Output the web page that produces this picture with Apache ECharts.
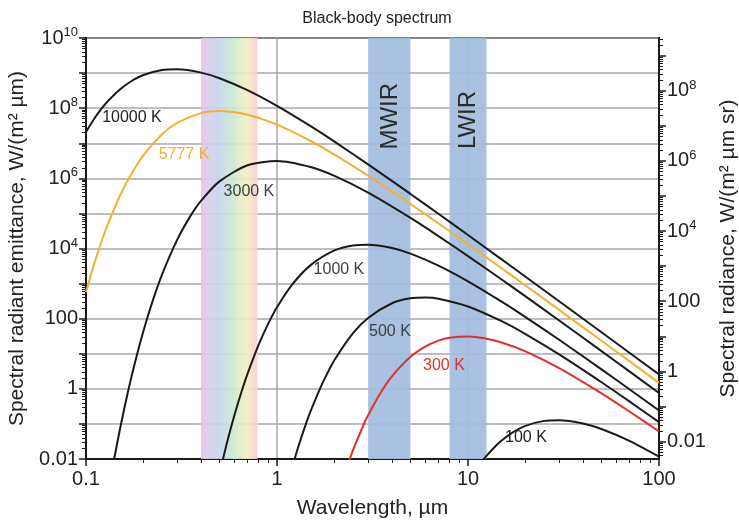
<!DOCTYPE html>
<html>
<head>
<meta charset="utf-8">
<script src="https://cdn.jsdelivr.net/npm/echarts@6/dist/echarts.min.js"></script>
<style>
html, body { margin: 0; padding: 0; background: #fff; }
#chart { width: 739px; height: 529px; }
</style>
</head>
<body>
<div id="chart"></div>
<script>
// wavelength (µm) and spectral emittance W/(m² µm)
const lambda10000 = [0.1, 0.11, 0.12, 0.13, 0.15, 0.17, 0.2, 0.25, 0.3, 0.4, 0.5, 0.7, 1, 1.5, 2, 3, 5, 7, 10, 15, 20, 30, 50, 70, 100];
const emit10000 = [2.11e7, 4.85e7, 9.33e7, 1.57e8, 3.36e8, 5.57e8, 8.79e8, 1.22e9, 1.28e9, 1.03e9, 7.14e8, 3.27e8, 1.16e8, 3.06e7, 1.11e7, 2.50e6, 3.59e5, 9.76e4, 2.42e4, 4895, 1568, 314, 41.0, 10.7, 2.58];

const lambda5777 = [0.1, 0.11, 0.12, 0.13, 0.15, 0.17, 0.2, 0.25, 0.3, 0.4, 0.5, 0.7, 1, 1.5, 2, 3, 5, 7, 10, 15, 20, 30, 50, 70, 100];
const emit5777 = [571, 3410, 1.46e4, 4.82e4, 3.03e5, 1.14e6, 4.57e6, 1.81e7, 3.82e7, 7.23e7, 8.27e7, 6.53e7, 3.38e7, 1.16e7, 4.73e6, 1.19e6, 1.85e5, 5.21e4, 1.32e4, 2728, 882, 178, 23.4, 6.15, 1.48];

const lambda3000 = [0.14, 0.15, 0.16, 0.17, 0.18, 0.2, 0.22, 0.25, 0.3, 0.35, 0.4, 0.5, 0.7, 1, 1.5, 2, 3, 5, 7, 10, 15, 20, 30, 50, 70, 100];
const emit3000 = [0.0092, 0.0641, 0.342, 1.48, 5.31, 45.0, 248, 1787, 1.76e4, 7.97e4, 2.27e5, 8.17e5, 2.36e6, 3.12e6, 2.10e6, 1.17e6, 3.90e5, 7.43e4, 2.26e4, 6079, 1308, 432, 88.8, 11.9, 3.14, 0.762];

const lambda1000 = [0.5, 0.55, 0.6, 0.65, 0.7, 0.8, 0.9, 1, 1.2, 1.5, 2, 2.5, 3, 4, 5, 7, 10, 15, 20, 30, 50, 70, 100];
const emit1000 = [0.0038, 0.0324, 0.185, 0.786, 2.64, 17.7, 72.3, 211, 933, 3364, 8794, 1.22e4, 1.28e4, 1.03e4, 7138, 3269, 1164, 306, 111, 25.0, 3.59, 0.976, 0.242];

const lambda500 = [1.2, 1.3, 1.4, 1.5, 1.7, 1.8, 2, 2.5, 3, 4, 5, 6, 7, 10, 15, 20, 30, 50, 70, 100];
const emit500 = [0.0058, 0.0246, 0.0824, 0.230, 1.17, 2.26, 6.60, 38.5, 105, 275, 380, 401, 371, 223, 84.8, 36.4, 9.57, 1.54, 0.438, 0.112];

const lambda300 = [2.3, 2.5, 2.8, 3, 3.5, 4, 5, 6, 7, 8, 10, 12, 15, 20, 30, 50, 70, 100];
const emit300 = [0.0051, 0.0179, 0.0791, 0.176, 0.797, 2.27, 8.17, 16.2, 23.6, 28.5, 31.2, 28.2, 21.0, 11.7, 3.90, 0.743, 0.226, 0.0608];

const lambda100 = [12, 12.5, 14, 15, 17, 20, 25, 30, 40, 50, 70, 100];
const emit100 = [0.0093, 0.0123, 0.0239, 0.0336, 0.0557, 0.0879, 0.122, 0.128, 0.103, 0.0714, 0.0327, 0.0116];

const xTicks = [0.1, 1, 10, 100];
const radianceLabels = [0.01, 1, 100, 1e4, 1e6, 1e8];
const radianceTicks = [0.01, 0.1, 1, 10, 100, 1e3, 1e4, 1e5, 1e6, 1e7, 1e8, 1e9];
const bandVisible = [0.4, 0.79];
const bandMWIR = [3, 5];
const bandLWIR = [8, 12.5];

function pairs(xs, ys) {
  return xs.map(function (x, i) { return [x, ys[i]]; });
}

// 2..9 x 10^k positions for the small log ticks
function minorTicks(lo, hi) {
  const out = [];
  for (let k = -4; k <= 10; k++) {
    for (let m = 2; m <= 9; m++) {
      const v = +(m * Math.pow(10, k)).toPrecision(6);
      if (v > lo && v < hi) out.push(v);
    }
  }
  return out;
}

function powLabel(v) {
  const lg = Math.log10(v);
  const e = Math.round(lg);
  if (Math.abs(lg - e) > 1e-6 || e % 2 !== 0) return '';
  if (e === -2) return '0.01';
  if (e === 0) return '1';
  if (e === 2) return '100';
  return '{b|10}{s|' + e + '}';
}

const font = 'Liberation Sans, Arial, sans-serif';
const labelRich = {
  b: { fontSize: 20, fontFamily: font, color: '#222' },
  s: { fontSize: 13, fontFamily: font, color: '#222', padding: [0, 0, 11, 0] }
};

function curve(name, xs, ys, color, tag, tagPos, tagColor) {
  return {
    name: name,
    type: 'line',
    data: pairs(xs, ys),
    showSymbol: false,
    smooth: 0.25,
    lineStyle: { color: color, width: 2 },
    z: 5,
    markPoint: {
      symbol: 'circle',
      symbolSize: 0,
      silent: true,
      label: {
        show: true,
        position: 'inside',
        formatter: tag,
        color: tagColor,
        fontSize: 16,
        fontFamily: font
      },
      data: [{ coord: tagPos }]
    }
  };
}

function minorAxis(pos, min, max, ticks) {
  return {
    type: 'log',
    logBase: 10,
    min: min,
    max: max,
    position: pos,
    axisLine: { show: false },
    axisLabel: { show: false },
    splitLine: { show: false },
    axisTick: { show: true, customValues: ticks, length: 4, lineStyle: { color: '#1a1a1a', width: 1 } }
  };
}

const chart = echarts.init(document.getElementById('chart'));

const bandSeries = {
  type: 'line',
  data: [],
  silent: true,
  markArea: {
    silent: true,
    data: [
      [{
        xAxis: bandVisible[0],
        itemStyle: {
          opacity: 0.9,
          color: {
            type: 'linear', x: 0, y: 0, x2: 1, y2: 0,
            colorStops: [
              { offset: 0, color: '#e6c6e4' },
              { offset: 0.3, color: '#c8d3f0' },
              { offset: 0.55, color: '#c9e7d4' },
              { offset: 0.8, color: '#f2efbf' },
              { offset: 1, color: '#f6cfcf' }
            ]
          }
        }
      }, { xAxis: bandVisible[1] }],
      [{ xAxis: bandMWIR[0], itemStyle: { color: '#a3bde0', opacity: 0.92 } }, { xAxis: bandMWIR[1] }],
      [{ xAxis: bandLWIR[0], itemStyle: { color: '#a3bde0', opacity: 0.92 } }, { xAxis: bandLWIR[1] }]
    ]
  },
  markPoint: {
    symbol: 'circle',
    symbolSize: 0,
    silent: true,
    label: {
      show: true,
      position: 'inside',
      rotate: 90,
      color: '#2a2a2a',
      fontSize: 24,
      fontFamily: font
    },
    data: [
      { coord: [3.9, 5.9e7], label: { formatter: 'MWIR' } },
      { coord: [10, 4.6e7], label: { formatter: 'LWIR' } }
    ]
  }
};

chart.setOption({
  animation: false,
  backgroundColor: '#fff',
  title: {
    text: 'Black-body spectrum',
    left: 372,
    textAlign: 'center',
    top: 6,
    textStyle: { fontSize: 16, fontWeight: 'normal', color: '#222', fontFamily: font }
  },
  grid: {
    left: 86, right: 80, top: 38, bottom: 70,
    outerBoundsMode: 'none',
    containLabel: false,
    show: true, borderColor: '#1a1a1a', borderWidth: 2
  },
  xAxis: [{
    type: 'log',
    logBase: 10,
    min: 0.1,
    max: 100,
    interval: 1,
    name: 'Wavelength, µm',
    nameLocation: 'middle',
    nameGap: 39,
    nameTextStyle: { fontSize: 21, color: '#222', fontFamily: font },
    axisLine: { lineStyle: { color: '#1a1a1a', width: 2 } },
    axisTick: { length: 7, lineStyle: { color: '#1a1a1a', width: 1.5 } },
    axisLabel: {
      fontSize: 20, color: '#222', fontFamily: font, margin: 10,
      formatter: function (v) {
        return xTicks.indexOf(+v.toPrecision(6)) >= 0 ? String(+v.toPrecision(6)) : '';
      }
    },
    splitLine: { show: true, lineStyle: { color: '#a8a8a8', width: 1.5 } }
  }, minorAxis('bottom', 0.1, 100, minorTicks(0.1, 100))],
  yAxis: [{
    type: 'log',
    logBase: 10,
    min: 0.01,
    max: 1e10,
    interval: 1,
    position: 'left',
    name: 'Spectral radiant emittance, W/(m² µm)',
    nameLocation: 'middle',
    nameGap: 57,
    nameTextStyle: { fontSize: 21, color: '#222', fontFamily: font },
    axisLine: { show: true, lineStyle: { color: '#1a1a1a', width: 2 } },
    axisTick: { show: true, length: 7, lineStyle: { color: '#1a1a1a', width: 1.5 } },
    axisLabel: { formatter: powLabel, rich: labelRich, fontSize: 20, color: '#222', fontFamily: font, margin: 8 },
    splitLine: { show: true, lineStyle: { color: '#a8a8a8', width: 1.5 } }
  }, {
    type: 'log',
    logBase: 10,
    min: 0.01 / Math.PI,
    max: 1e10 / Math.PI,
    position: 'right',
    name: 'Spectral radiance, W/(m² µm sr)',
    nameLocation: 'middle',
    nameRotate: 90,
    nameGap: 59,
    nameTextStyle: { fontSize: 21, color: '#222', fontFamily: font },
    axisLine: { show: true, lineStyle: { color: '#1a1a1a', width: 2 } },
    axisTick: { show: true, customValues: radianceTicks, length: 7, lineStyle: { color: '#1a1a1a', width: 1.5 } },
    axisLabel: { customValues: radianceLabels, formatter: powLabel, rich: labelRich, fontSize: 20, color: '#222', fontFamily: font, margin: 8 },
    splitLine: { show: false }
  },
  minorAxis('left', 0.01, 1e10, minorTicks(0.01, 1e10)),
  minorAxis('right', 0.01 / Math.PI, 1e10 / Math.PI, minorTicks(0.01 / Math.PI, 1e10 / Math.PI))],
  series: [
    bandSeries,
    curve('10000 K', lambda10000, emit10000, '#1a1a1a', '10000 K', [0.174, 5.5e7], '#222'),
    curve('5777 K', lambda5777, emit5777, '#f0b235', '5777 K', [0.326, 4.6e6], '#f0b235'),
    curve('3000 K', lambda3000, emit3000, '#1a1a1a', '3000 K', [0.713, 4.3e5], '#3a4048'),
    curve('1000 K', lambda1000, emit1000, '#1a1a1a', '1000 K', [2.11, 2430], '#3a4048'),
    curve('500 K', lambda500, emit500, '#1a1a1a', '500 K', [3.9, 44], '#3a4048'),
    curve('300 K', lambda300, emit300, '#e0302a', '300 K', [7.48, 4.5], '#e0302a'),
    curve('100 K', lambda100, emit100, '#1a1a1a', '100 K', [20.1, 0.042], '#222')
  ]
});
</script>
</body>
</html>
